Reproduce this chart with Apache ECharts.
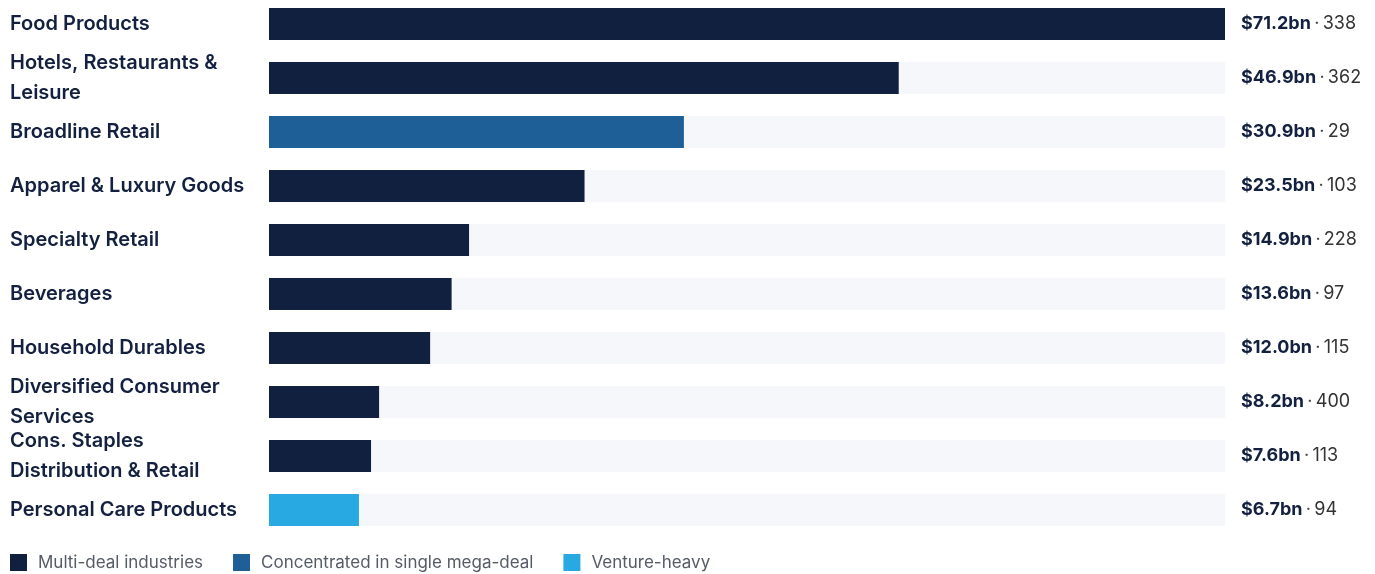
<!DOCTYPE html>
<html>
<head>
<meta charset="utf-8">
<title>Deal value by industry</title>
<script src="https://cdn.jsdelivr.net/npm/echarts@6/dist/echarts.min.js"></script>
<style>
  html, body { margin: 0; padding: 0; background: #fff; overflow: hidden; }
  /* chart is nudged up 3px so the first bar sits flush with the top like the original */
  #chart { width: 1375px; height: 577px; margin-top: -3px; }
</style>
</head>
<body>
<div id="chart"></div>
<script>
  // industries, top to bottom
  var categories = [
    'Food Products',
    'Hotels, Restaurants &\nLeisure',
    'Broadline Retail',
    'Apparel & Luxury Goods',
    'Specialty Retail',
    'Beverages',
    'Household Durables',
    'Diversified Consumer\nServices',
    'Cons. Staples\nDistribution & Retail',
    'Personal Care Products'
  ]
  // deal value, $bn
  var values = [71.2, 46.9, 30.9, 23.5, 14.9, 13.6, 12.0, 8.2, 7.6, 6.7]
  // number of deals
  var counts = [338, 362, 29, 103, 228, 97, 115, 400, 113, 94]
  // 0 = multi-deal, 1 = single mega-deal, 2 = venture-heavy
  var groups = [0, 0, 1, 0, 0, 0, 0, 0, 0, 2]
  var groupNames = ['Multi-deal industries', 'Concentrated in single mega-deal', 'Venture-heavy']
  var groupColors = ['#12203f', '#1f5f97', '#29a9e1']

  var maxValue = Math.max.apply(null, values)
  var font = 'Inter, "Noto Sans", sans-serif'

  var chart = echarts.init(document.getElementById('chart'))

  // grey track behind every bar
  var series = [{
    name: 'track',
    type: 'bar',
    silent: true,
    barWidth: 32,
    barGap: '-100%',
    itemStyle: { color: '#f5f7fb' },
    data: values.map(function () { return maxValue }),
    z: 1
  }]
  groupNames.forEach(function (name, g) {
    series.push({
      name: name,
      type: 'bar',
      stack: 'v',
      barWidth: 32,
      barGap: '-100%',
      itemStyle: { color: groupColors[g] },
      data: values.map(function (v, i) { return groups[i] === g ? v : '-' }),
      z: 2
    })
  })

  chart.setOption({
    animation: false,
    grid: {
      left: 269,
      right: 150,
      top: 0,
      height: 540
    },
    legend: {
      data: groupNames,
      left: 10,
      top: 557,
      padding: 0,
      icon: 'rect',
      itemWidth: 17,
      itemHeight: 17,
      itemGap: 30,
      textStyle: { color: '#555b66', fontSize: 17, fontFamily: font, padding: [0, 0, 0, 6] }
    },
    xAxis: {
      type: 'value',
      min: 0,
      max: maxValue,
      show: false
    },
    yAxis: [{
      type: 'category',
      inverse: true,
      data: categories,
      axisLine: { show: false },
      axisTick: { show: false },
      axisLabel: {
        align: 'left',
        margin: 259,
        color: '#13203f',
        fontSize: 20,
        fontWeight: 600,
        lineHeight: 30,
        fontFamily: font
      }
    }, {
      type: 'category',
      inverse: true,
      position: 'right',
      data: categories,
      axisLine: { show: false },
      axisTick: { show: false },
      axisLabel: {
        align: 'left',
        margin: 16,
        formatter: function (v, i) {
          return '{v|$' + values[i].toFixed(1) + 'bn}{d|\u2009·\u2009}{n|' + counts[i] + '}'
        },
        rich: {
          v: { color: '#13203f', fontSize: 18, fontWeight: 700, fontFamily: font },
          d: { color: '#444', fontSize: 18, fontFamily: font },
          n: { color: '#333', fontSize: 18, fontFamily: font }
        }
      }
    }],
    series: series
  })
</script>
</body>
</html>
